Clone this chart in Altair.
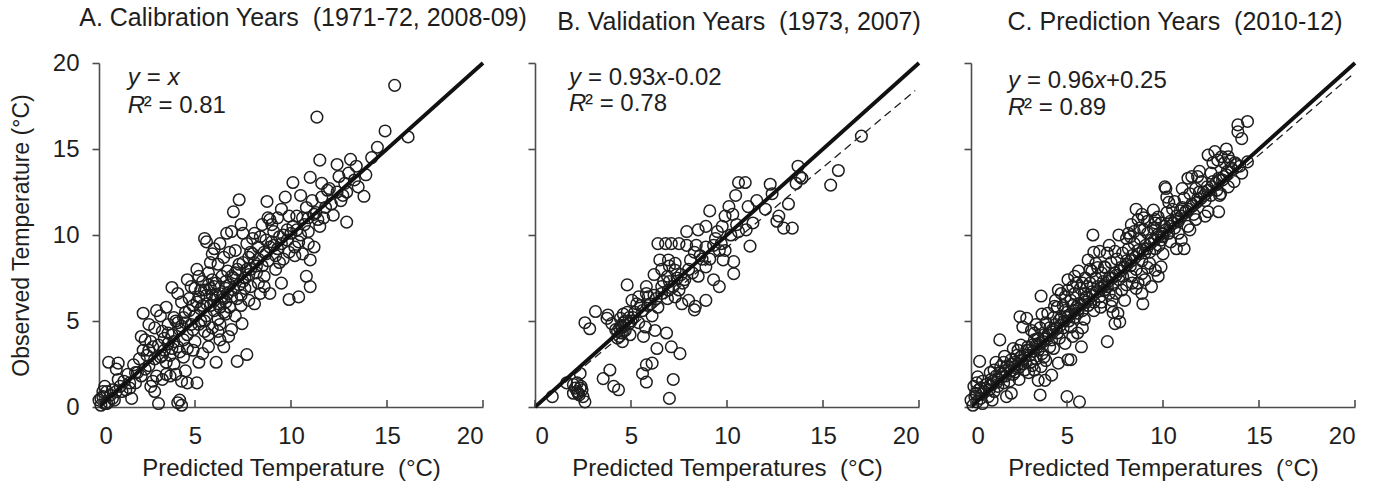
import altair as alt
import pandas as pd

FONT = "Liberation Sans"
AX = "#4d4d4d"
INK = "#1e1e1e"
NB = "\u00a0"

TITLES = [
    "A. Calibration Years" + NB + NB + "(1971-72, 2008-09)",
    "B. Validation Years" + NB + NB + "(1973, 2007)",
    "C. Prediction Years" + NB + NB + "(2010-12)",
]
X_TITLES = [
    "Predicted Temperature" + NB + NB + "(°C)",
    "Predicted Temperatures" + NB + NB + "(°C)",
    "Predicted Temperatures" + NB + NB + "(°C)",
]
Y_TITLE = "Observed Temperature" + NB + "(°C)"
TICKS = [0, 5, 10, 15, 20]
ONE_TO_ONE_X = [0, 20]
FIT_X = [0, 19.8]
FIT_B = [0.93, -0.02]
FIT_C = [0.96, 0.25]
R2 = ["0.81", "0.78", "0.89"]

A_PTS = [
    (0.0, 0.4), (0.1, 0.1), (0.2, 0.6), (0.3, 0.2), (0.4, 0.9), (0.5, 0.3), (0.6, 0.7), (0.7, 1.0),
    (0.8, 0.4), (0.9, 0.9), (0.3, 1.2), (0.1, 0.5), (0.5, 2.6), (1.0, 2.55), (0.9, 2.2), (0.2, 0.9),
    (1.7, 0.5), (1.8, 2.45), (1.3, 1.5), (1.5, 1.9), (1.1, 1.2), (2.0, 2.0), (1.6, 1.1), (1.2, 0.9), (1.9, 1.4),
    (2.3, 5.45), (2.2, 4.1), (2.4, 3.9), (2.5, 3.0), (2.6, 2.4), (2.8, 1.5), (2.7, 1.2), (2.9, 0.9), (2.1, 2.8),
    (2.3, 3.3), (2.9, 4.6), (2.6, 4.8), (2.8, 3.5),
    (3.1, 0.2), (3.0, 1.8), (3.3, 1.6), (3.5, 1.9), (3.2, 2.9), (3.4, 3.3), (3.6, 3.7), (3.8, 4.2), (3.5, 5.8),
    (3.8, 6.95), (3.3, 4.4), (3.7, 3.0), (3.9, 2.5), (3.2, 5.3), (3.0, 5.6), (3.6, 4.8), (3.9, 5.2), (3.7, 1.8),
    (4.2, 0.4), (4.3, 0.1), (4.1, 0.25), (4.0, 1.9), (4.3, 1.5), (4.6, 1.4), (4.5, 2.1), (4.1, 3.5), (4.4, 3.9),
    (4.2, 4.5), (4.6, 4.2), (4.8, 4.8), (4.5, 5.5), (4.3, 6.1), (4.7, 6.3), (4.6, 7.4), (4.9, 5.9), (4.0, 5.0),
    (4.9, 3.3), (4.4, 2.9), (4.8, 7.0), (4.1, 6.6),
    (5.1, 1.4), (5.2, 2.6), (5.4, 3.1), (5.7, 3.5), (5.5, 4.4), (5.3, 5.0), (5.6, 5.3), (5.8, 5.9), (5.2, 6.4),
    (5.5, 6.8), (5.9, 6.5), (5.4, 7.3), (5.7, 7.8), (5.5, 9.8), (5.6, 9.6), (5.1, 8.0), (5.8, 8.4), (5.3, 5.7),
    (5.9, 4.6), (5.6, 6.0), (5.0, 6.9), (5.2, 7.6),
    (6.1, 2.6), (6.3, 3.9), (6.5, 3.5), (6.75, 4.1), (6.2, 5.1), (6.5, 5.5), (6.8, 5.8), (6.0, 6.2), (6.3, 6.6),
    (6.6, 6.9), (6.9, 6.4), (6.1, 7.2), (6.4, 7.6), (6.7, 7.9), (6.2, 8.3), (6.5, 8.7), (6.65, 10.1), (6.9, 10.2),
    (6.0, 9.2), (6.8, 9.0), (6.3, 4.8), (6.9, 4.5), (6.6, 6.1), (6.0, 5.6),
    (7.2, 2.65), (7.7, 3.05), (7.45, 4.85), (7.1, 5.3), (7.4, 5.9), (7.8, 6.2), (7.0, 6.8), (7.3, 7.1), (7.6, 7.5),
    (7.9, 7.0), (7.2, 8.0), (7.5, 8.4), (7.8, 8.7), (7.0, 11.35), (7.3, 12.05), (7.5, 10.1), (7.1, 9.1), (7.7, 9.5),
    (7.4, 6.5), (7.9, 8.0),
    (8.1, 6.0), (8.4, 6.6), (8.9, 6.6), (8.6, 7.0), (8.2, 7.8), (8.5, 8.2), (8.8, 8.5), (8.0, 8.9), (8.3, 9.3),
    (8.7, 9.7), (8.1, 10.1), (8.5, 10.6), (8.75, 11.95), (8.9, 10.9), (8.3, 7.2), (8.6, 9.0), (8.0, 9.8),
    (9.9, 6.25), (9.5, 7.2), (9.2, 8.0), (9.6, 8.6), (9.9, 9.0), (9.1, 9.4), (9.4, 9.9), (9.8, 10.3), (9.0, 10.6),
    (9.3, 11.0), (9.7, 12.2), (9.5, 11.5), (9.9, 11.1), (9.2, 8.8), (9.6, 10.0),
    (10.4, 6.4), (11.0, 7.0), (10.8, 7.6), (11.0, 8.55), (10.6, 8.9), (10.2, 9.3), (10.9, 9.5), (10.5, 10.0),
    (10.1, 10.5), (10.7, 10.6), (10.3, 11.1), (10.8, 11.6), (10.1, 13.05), (10.5, 12.3), (11.0, 13.35),
    (10.9, 10.2), (10.4, 9.6),
    (11.2, 9.3), (11.5, 10.5), (11.3, 11.3), (11.8, 11.6), (11.1, 12.0), (11.6, 12.2), (11.5, 14.35),
    (11.35, 16.85), (11.9, 12.6), (11.4, 10.9), (11.7, 11.0),
    (12.2, 11.15), (12.9, 10.75), (12.4, 12.5), (12.0, 12.7), (12.7, 12.3), (12.4, 14.1), (12.6, 12.0), (12.8, 13.0),
    (13.1, 14.4), (13.0, 13.6), (13.8, 12.25), (13.3, 13.2),
    (14.5, 15.1), (14.9, 16.05), (16.1, 15.7), (15.4, 18.7),
    (3.4, 4.0), (3.6, 4.3), (3.9, 3.8), (4.1, 4.9), (4.3, 4.7), (4.5, 4.9), (4.7, 5.6), (4.9, 4.5), (5.0, 5.3),
    (5.2, 4.8), (5.4, 5.9), (5.6, 6.5), (5.8, 6.9), (5.1, 6.1), (5.3, 6.8), (5.7, 7.1), (5.9, 7.4), (6.0, 7.0),
    (6.2, 6.0), (6.4, 6.4), (6.6, 7.3), (6.8, 7.1), (6.1, 6.5), (6.3, 5.8), (6.5, 6.3), (6.7, 6.6), (6.9, 7.6),
    (7.1, 7.8), (7.3, 8.3), (7.5, 7.3), (7.7, 8.0), (7.0, 7.5), (7.2, 6.3), (7.6, 6.9), (7.9, 9.0), (8.1, 8.4),
    (8.3, 8.6), (8.4, 9.9), (8.7, 8.9), (8.9, 9.3), (9.0, 9.6), (9.3, 9.2), (9.5, 9.5), (9.8, 9.7), (10.0, 10.1),
    (10.3, 10.3), (10.6, 11.0), (10.9, 11.0), (11.2, 11.2), (9.1, 10.2), (8.8, 11.0), (8.2, 8.2), (6.2, 4.4),
    (5.7, 4.2), (5.0, 3.8), (4.6, 3.4), (4.2, 3.2), (3.8, 3.4), (3.5, 2.6), (3.1, 3.6), (2.9, 2.8), (2.6, 3.3),
    (2.4, 2.2), (2.2, 1.8), (1.9, 2.0), (1.6, 1.4), (1.4, 1.0), (1.0, 1.6), (0.7, 0.5), (0.4, 0.2), (2.7, 3.8),
    (3.3, 3.0), (4.4, 5.2), (5.5, 5.0), (6.6, 5.4), (7.8, 7.7), (8.6, 7.6), (9.4, 8.4), (10.2, 8.8), (6.3, 9.5),
    (5.9, 8.9), (7.4, 10.6), (12.1, 11.8), (12.5, 13.4), (11.6, 13.0), (12.9, 12.5), (13.4, 14.0), (13.9, 13.5),
    (14.2, 14.5), (13.5, 12.8),
]

B_PTS = [
    (0.9, 0.6), (1.65, 1.4), (2.0, 1.3), (2.2, 0.9), (2.25, 0.8), (2.45, 1.0), (2.6, 0.3), (2.35, 1.1),
    (2.1, 1.1), (2.35, 1.95), (2.3, 0.7), (2.4, 1.2),
    (2.6, 4.9), (2.85, 4.55), (3.15, 5.55), (3.55, 1.65), (3.9, 2.15), (4.1, 1.2), (4.35, 1.0), (3.8, 5.35),
    (3.75, 5.15),
    (4.45, 5.15), (4.55, 4.65), (4.9, 4.85), (4.4, 4.1), (4.55, 3.8), (4.95, 4.2), (4.7, 4.45), (4.2, 4.5),
    (4.0, 4.85), (4.8, 7.1), (4.6, 5.4), (4.3, 4.0), (4.5, 4.3),
    (5.75, 4.65), (5.65, 4.1), (6.25, 4.45), (6.85, 4.3), (6.35, 3.4), (7.1, 3.5), (7.55, 3.1), (5.6, 1.95),
    (5.8, 2.45), (6.1, 2.55), (5.8, 1.45), (7.2, 1.6), (7.0, 0.5),
    (5.05, 6.2), (5.4, 6.4), (5.8, 7.0), (5.8, 6.6), (6.6, 7.0), (6.2, 7.7), (5.2, 5.5), (5.5, 5.9), (5.1, 5.2),
    (5.3, 6.0), (5.6, 5.6), (5.0, 5.0), (6.0, 6.0), (6.3, 6.3), (5.9, 6.4), (6.1, 5.3), (6.4, 5.8),
    (6.4, 9.5), (6.8, 9.5), (7.1, 9.5), (7.5, 9.5), (7.9, 9.4), (6.5, 8.55), (6.95, 8.55), (7.3, 8.35),
    (8.1, 8.55), (7.3, 7.95), (7.5, 6.8), (7.65, 6.0), (8.0, 6.2), (8.3, 5.65), (8.35, 5.85), (7.3, 6.4),
    (6.95, 6.8), (8.9, 6.2), (8.2, 7.8), (7.8, 7.4), (6.7, 7.3), (7.0, 7.3), (7.6, 7.7), (6.6, 8.0), (7.2, 7.0),
    (7.7, 7.2), (6.9, 6.3),
    (7.9, 10.2), (8.5, 10.3), (8.9, 10.5), (8.9, 9.3), (9.3, 9.4), (9.6, 9.1), (9.9, 9.1), (9.8, 8.55),
    (10.35, 8.45), (10.35, 7.75), (8.9, 8.15), (9.3, 7.4), (9.6, 7.0), (8.5, 7.6), (8.6, 8.8), (8.3, 9.0),
    (9.1, 8.6),
    (9.1, 11.4), (10.1, 11.65), (9.9, 11.1), (9.75, 10.5), (9.5, 10.2), (10.2, 10.0), (10.5, 10.6), (11.2, 9.35),
    (11.35, 10.7), (11.1, 11.65), (11.55, 12.0), (10.45, 12.3), (10.6, 13.05), (10.95, 13.05), (10.3, 11.2),
    (11.0, 10.3),
    (12.25, 12.95), (12.35, 12.4), (12.6, 10.8), (12.7, 11.1), (12.95, 10.4), (13.4, 10.4), (13.2, 11.8),
    (13.7, 14.0), (13.8, 13.4), (13.6, 13.0), (13.9, 13.3), (12.0, 11.5), (15.4, 12.9), (15.8, 13.75), (17.0, 15.75),
    (4.4, 4.6), (4.6, 4.9), (4.7, 5.0), (4.9, 5.2), (4.3, 4.4), (4.5, 4.7), (4.6, 4.4), (4.8, 5.5), (5.9, 5.9),
    (6.2, 6.5), (6.6, 6.6), (6.9, 7.6), (7.4, 7.5), (8.0, 8.0), (8.7, 8.6), (9.4, 9.8), (9.7, 9.5), (10.6, 10.2),
    (2.2, 1.4), (2.5, 0.6), (2.0, 0.8), (5.4, 4.9), (7.0, 8.2), (8.4, 9.4),
]

C_PTS = [
    (0.0, 0.4), (0.1, 0.1), (0.2, 0.6), (0.25, 0.8), (0.3, 0.3), (0.4, 1.0), (0.5, 1.1), (0.5, 0.5), (0.6, 0.2),
    (0.7, 0.9), (0.8, 1.3), (0.9, 0.6), (0.35, 1.75), (0.45, 2.65), (0.15, 1.2), (0.6, 1.5), (0.95, 1.0),
    (1.05, 1.6), (1.2, 0.9), (1.4, 1.2), (1.2, 2.15), (1.5, 3.9), (1.55, 2.35), (1.75, 2.95), (1.85, 0.6),
    (1.3, 1.8), (1.6, 1.9), (1.8, 2.1), (1.1, 1.3), (1.4, 1.6), (1.7, 1.4), (1.9, 2.4), (1.5, 2.0), (1.3, 2.6),
    (2.1, 0.8), (2.1, 2.75), (2.3, 2.05), (2.45, 3.3), (2.55, 5.25), (2.7, 4.65), (2.9, 5.15), (2.95, 3.5),
    (2.8, 2.15), (2.0, 2.3), (2.3, 2.6), (2.6, 2.9), (2.9, 3.3), (2.5, 2.3), (2.2, 1.9), (2.7, 2.5), (2.4, 3.0),
    (2.8, 3.0), (2.6, 3.6), (2.15, 2.5),
    (3.15, 4.45), (3.3, 3.9), (3.5, 3.3), (3.3, 2.15), (3.65, 2.35), (3.5, 1.55), (3.85, 1.55), (3.6, 0.7),
    (3.65, 6.45), (3.2, 3.6), (3.5, 4.0), (3.8, 4.2), (3.1, 2.6), (3.4, 2.8), (3.7, 3.1), (3.9, 2.7), (3.3, 4.3),
    (3.6, 4.6), (3.9, 4.9), (3.0, 3.3), (3.4, 3.6), (3.75, 3.8), (3.2, 2.4),
    (4.0, 5.45), (4.35, 5.85), (4.6, 5.05), (4.55, 2.55), (4.2, 1.85), (4.1, 4.6), (4.4, 4.8), (4.7, 5.2),
    (4.55, 6.8), (4.7, 6.6), (4.2, 3.9), (4.5, 4.3), (4.8, 4.6), (4.0, 4.2), (4.3, 5.2), (4.9, 5.6), (4.6, 4.0),
    (4.9, 3.7), (4.1, 3.5), (4.4, 6.2), (4.8, 5.9), (4.25, 4.5),
    (5.0, 5.5), (5.05, 7.4), (5.4, 7.6), (5.8, 7.2), (5.05, 6.8), (5.4, 6.6), (5.9, 6.6), (5.05, 5.25),
    (5.55, 5.45), (5.2, 4.65), (5.55, 4.3), (5.75, 3.5), (5.05, 2.75), (5.2, 2.75), (5.0, 0.6), (5.65, 0.3),
    (5.3, 5.9), (5.6, 6.0), (5.9, 6.2), (5.2, 6.2), (5.5, 5.8), (5.8, 5.6), (5.1, 5.0), (5.4, 5.2), (5.7, 6.9),
    (5.95, 7.5), (5.3, 7.0), (5.6, 7.9), (5.9, 5.1),
    (6.1, 8.55), (6.35, 10.0), (6.5, 8.35), (6.7, 9.05), (6.95, 8.15), (6.0, 6.4), (6.3, 6.7), (6.6, 7.0),
    (6.9, 7.3), (6.2, 7.2), (6.5, 7.5), (6.8, 7.8), (6.1, 5.9), (6.4, 6.1), (6.7, 6.4), (6.95, 6.8), (6.3, 7.9),
    (6.6, 8.1), (6.9, 7.0), (6.05, 7.0), (6.4, 5.6), (6.75, 5.8),
    (7.1, 8.95), (7.5, 9.05), (7.9, 8.95), (7.3, 5.85), (7.65, 5.45), (7.5, 4.85), (7.75, 4.95), (7.1, 3.8),
    (8.0, 8.15), (7.85, 6.8), (8.0, 6.2), (7.2, 7.5), (7.5, 7.8), (7.8, 8.1), (7.1, 7.0), (7.4, 7.1), (7.7, 7.4),
    (7.3, 8.4), (7.6, 8.6), (7.9, 7.6), (7.2, 6.6), (7.55, 6.6), (7.35, 6.2), (7.0, 8.1),
    (8.35, 7.6), (8.9, 7.75), (8.6, 11.5), (8.9, 11.2), (8.7, 10.9), (8.35, 10.6), (8.2, 10.1), (8.9, 6.6),
    (8.95, 6.0), (8.1, 8.5), (8.4, 8.8), (8.7, 9.1), (8.2, 9.2), (8.5, 9.5), (8.8, 9.8), (8.3, 8.2), (8.6, 8.0),
    (8.9, 8.5), (8.1, 9.8), (8.5, 10.2), (8.8, 10.4), (8.4, 7.2), (8.7, 7.2),
    (9.05, 8.95), (9.3, 8.35), (9.6, 7.95), (9.9, 8.15), (9.05, 7.4), (9.4, 7.0), (9.75, 7.6), (9.5, 11.45),
    (9.75, 11.05), (9.9, 10.7), (9.1, 9.4), (9.4, 9.7), (9.7, 10.0), (9.2, 10.1), (9.5, 10.4), (9.8, 9.4),
    (9.3, 9.0), (9.6, 9.2), (9.9, 9.7), (9.2, 10.8), (9.6, 10.7), (9.0, 10.3),
    (10.1, 12.8), (10.15, 12.7), (10.6, 11.95), (10.8, 10.1), (10.95, 9.7), (10.3, 10.1), (10.4, 9.6),
    (10.1, 10.5), (10.4, 10.8), (10.7, 11.1), (10.2, 11.3), (10.5, 11.5), (10.9, 11.4), (10.0, 9.9), (10.6, 10.4),
    (10.3, 11.9), (10.8, 10.8),
    (11.1, 12.15), (11.1, 9.2), (11.3, 10.5), (11.7, 10.9), (11.5, 13.4), (11.8, 13.4), (11.3, 13.3),
    (11.2, 11.4), (11.5, 11.8), (11.8, 12.1), (11.4, 12.4), (11.7, 12.7), (11.0, 11.6), (11.6, 11.2), (11.9, 12.5),
    (12.0, 13.1), (12.35, 14.65), (12.7, 14.85), (12.85, 14.35), (12.35, 11.35), (12.9, 11.35), (12.95, 12.3),
    (12.2, 12.0), (12.5, 12.3), (12.8, 12.6), (12.3, 12.8), (12.6, 13.1), (12.9, 13.3), (12.1, 12.5), (12.5, 13.6),
    (13.05, 14.55), (13.4, 14.55), (13.2, 14.2), (13.4, 12.8), (13.9, 16.4), (13.9, 16.0), (14.1, 15.6),
    (14.4, 16.6), (14.4, 14.25), (14.1, 13.6), (13.1, 13.2), (13.3, 13.5), (13.6, 13.8), (13.8, 14.1),
    (14.0, 14.0), (13.5, 14.3),
    (0.55, 0.75), (0.75, 1.1), (1.0, 1.25), (1.15, 1.5), (1.35, 1.45), (1.6, 1.75), (1.8, 1.8), (2.05, 2.1),
    (2.25, 2.3), (2.45, 2.5), (2.65, 2.75), (2.85, 2.65), (3.05, 3.0), (3.25, 3.25), (3.45, 3.5), (3.6, 3.7),
    (3.85, 3.95), (4.05, 4.15), (4.25, 4.35), (4.45, 4.55), (4.65, 4.75), (4.85, 5.0), (5.0, 5.2), (5.2, 5.4),
    (5.4, 5.6), (5.6, 5.7), (5.75, 5.95), (5.95, 6.1), (6.15, 6.3), (6.35, 6.5), (6.55, 6.7), (6.75, 6.9),
    (6.95, 7.1), (7.15, 7.3), (7.35, 7.5), (7.55, 7.65), (7.75, 7.9), (7.95, 8.1), (8.15, 8.3), (8.35, 8.5),
    (8.55, 8.7), (8.75, 8.9), (8.95, 9.1), (9.15, 9.2), (9.35, 9.5), (9.55, 9.7), (9.75, 9.9), (9.95, 10.1),
    (10.15, 10.3), (10.35, 10.5), (10.55, 10.7), (10.75, 10.9), (10.95, 11.1), (11.15, 11.3), (11.35, 11.5),
    (11.55, 11.7), (11.75, 11.9), (11.95, 12.1), (12.15, 12.3), (12.35, 12.6), (12.55, 12.8), (12.75, 13.0),
    (12.95, 13.2), (13.15, 13.4), (13.35, 13.7), (13.55, 13.9), (13.75, 14.2),
    (1.0, 2.0), (1.7, 2.6), (2.2, 3.4), (2.5, 1.6), (3.0, 2.0), (3.4, 4.8), (3.7, 5.4), (4.3, 3.4), (4.5, 5.8),
    (4.9, 6.4), (5.3, 4.1), (5.5, 7.2), (5.8, 4.6), (6.2, 8.0), (6.4, 9.0), (6.8, 6.1), (7.2, 9.4), (7.4, 5.5),
    (7.7, 10.0), (8.1, 7.1), (8.3, 9.9), (8.6, 6.9), (9.0, 11.0), (9.2, 8.1), (9.6, 10.9), (10.0, 8.9),
    (10.2, 12.2), (10.7, 9.2), (11.0, 12.7), (11.4, 10.3), (11.9, 13.7), (12.2, 11.1), (12.6, 14.2), (13.0, 12.4),
    (13.3, 15.0), (13.7, 13.1), (1.1, 0.4), (0.3, 1.4), (2.0, 1.5), (3.8, 2.9),
]

# equation pieces: (text, italic, dx in px)
EQ_A = [("y", True, 0), ("=", False, 19), ("x", True, 40)]
EQ_B = [("y", True, 0), ("=" + NB + "0.93", False, 19), ("x", True, 86), ("-0.02", False, 98)]
EQ_C = [("y", True, 0), ("=" + NB + "0.96", False, 19), ("x", True, 86), ("+0.25", False, 98)]
# annotation anchor (data units): x, y of equation line, y of R² line
ANCHORS = [(1.5, 19.1, 17.5), (1.77, 19.15, 17.6), (1.93, 18.95, 17.4)]

W, H = 384, 344
SCALE = alt.Scale(domain=[0, 20], nice=False, zero=False)


def panel(i, pts, fit, eq, show_y):
    df = pd.DataFrame(pts, columns=["x", "y"])
    xenc = alt.X(
        "x:Q", scale=SCALE,
        axis=alt.Axis(values=TICKS, ticks=False, tickSize=0, title=X_TITLES[i], grid=False,
                      labelPadding=17, titlePadding=8, domainWidth=1.6),
    )
    yaxis = alt.Axis(values=TICKS, tickSize=7, grid=False, domainWidth=1.6, tickWidth=1.6,
                     labels=show_y, labelPadding=13, titlePadding=19, titleFontSize=23)
    if show_y:
        yenc = alt.Y("y:Q", scale=SCALE, axis=yaxis, title=Y_TITLE)
    else:
        yenc = alt.Y("y:Q", scale=SCALE, axis=yaxis, title=None)

    pts_layer = alt.Chart(df).mark_point(
        shape="circle", filled=False, size=135, strokeWidth=1.5, color=INK, opacity=1
    ).encode(x=xenc, y=yenc)

    layers = [pts_layer]

    one = pd.DataFrame({"x": ONE_TO_ONE_X, "y": ONE_TO_ONE_X})
    if fit is not None:
        fdf = pd.DataFrame({"x": FIT_X, "y": [fit[0] * v + fit[1] for v in FIT_X]})
        layers.append(alt.Chart(fdf).mark_line(color=INK, strokeWidth=1.3, strokeDash=[8, 5]).encode(x=xenc, y=yenc))
    layers.append(alt.Chart(one).mark_line(color="#111111", strokeWidth=3.8).encode(x=xenc, y=yenc))

    tdf = pd.DataFrame({"x": TICKS})
    layers.append(alt.Chart(tdf).mark_rule(color=AX, strokeWidth=1.6).encode(
        x=xenc, y=alt.value(H), y2=alt.value(H - 7)))

    ax, ay1, ay2 = ANCHORS[i]
    for txt, ital, dx in eq:
        d = pd.DataFrame({"x": [ax], "y": [ay1], "t": [txt]})
        layers.append(alt.Chart(d).mark_text(
            align="left", baseline="middle", dx=dx, fontSize=24, font=FONT, color=INK,
            fontStyle="italic" if ital else "normal").encode(x=xenc, y=yenc, text="t:N"))
    r_parts = [("R", True, 0), ("²" + NB + "=" + NB + R2[i], False, 16)]
    for txt, ital, dx in r_parts:
        d = pd.DataFrame({"x": [ax], "y": [ay2], "t": [txt]})
        layers.append(alt.Chart(d).mark_text(
            align="left", baseline="middle", dx=dx, fontSize=24, font=FONT, color=INK,
            fontStyle="italic" if ital else "normal").encode(x=xenc, y=yenc, text="t:N"))

    return alt.layer(*layers).properties(
        width=W, height=H,
        title=alt.Title(TITLES[i], fontSize=25, fontWeight="normal", font=FONT, color=INK,
                        dx=12, offset=20, anchor="middle"),
    )


pa = panel(0, A_PTS, None, EQ_A, True)
pb = panel(1, B_PTS, FIT_B, EQ_B, False)
pc = panel(2, C_PTS, FIT_C, EQ_C, False)

chart = alt.hconcat(pa, pb, pc, spacing=52, bounds="flush").properties(
    padding={"left": 10, "top": 6, "right": 5, "bottom": 5}
).configure_view(stroke=None).configure_axis(
    domainColor=AX, tickColor=AX, labelColor=INK, titleColor=INK,
    labelFont=FONT, titleFont=FONT, labelFontSize=24, titleFontSize=24, titleFontWeight="normal",
)

chart.save("out.html", embed_options={"renderer": "svg", "actions": False})
